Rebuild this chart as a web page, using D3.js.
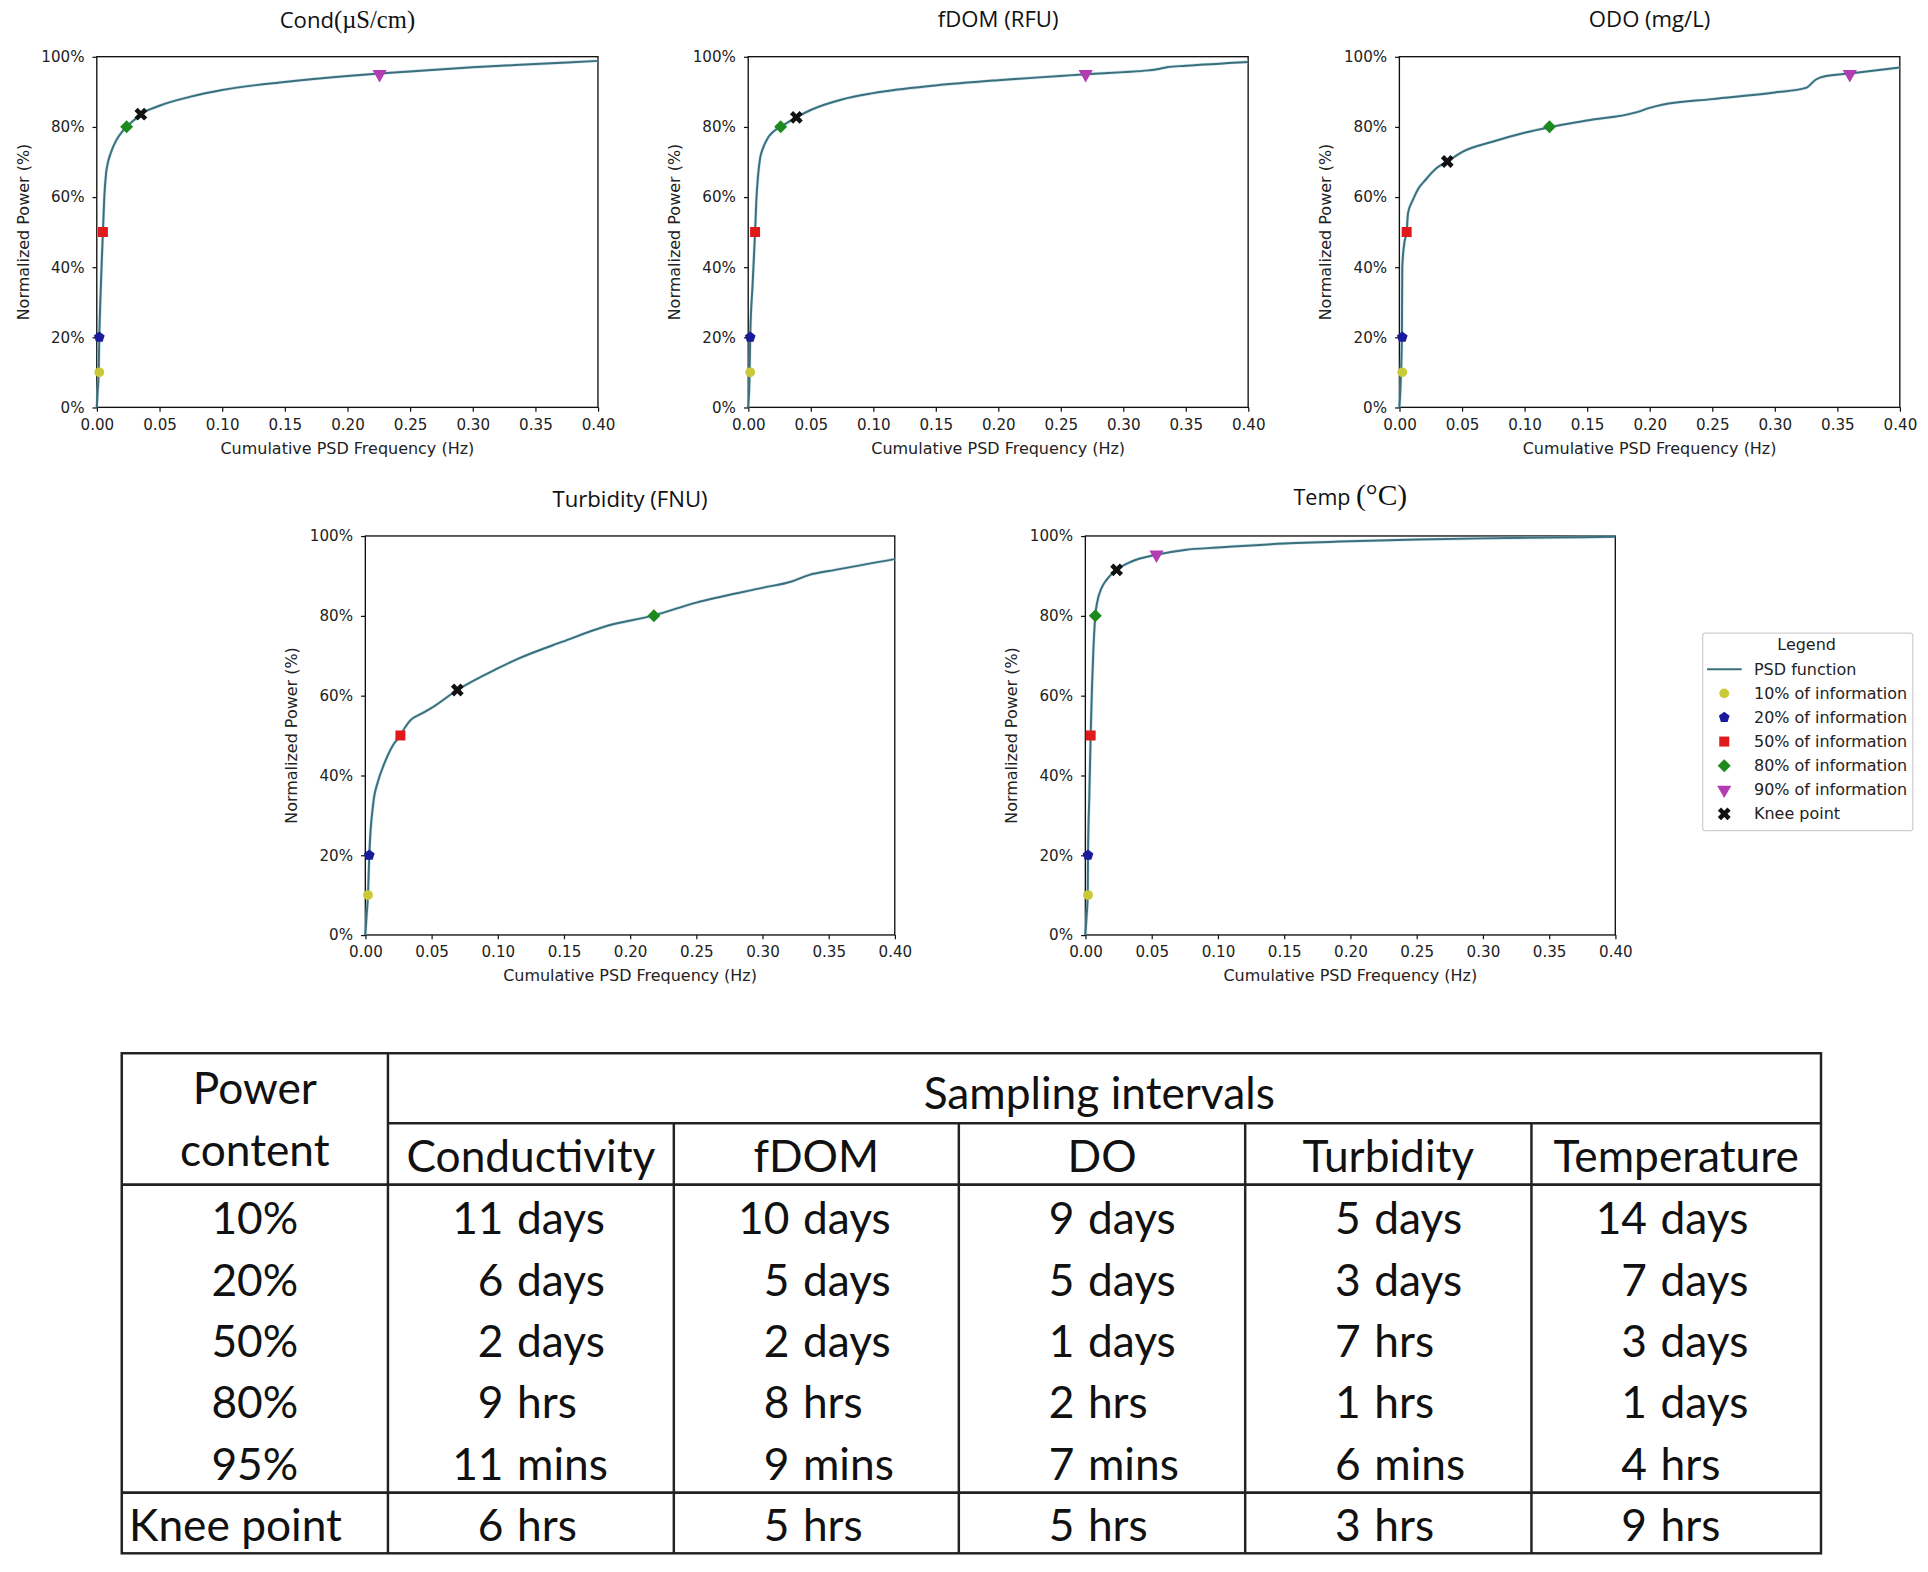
<!DOCTYPE html>
<html>
<head>
<meta charset="utf-8">
<script src="https://cdn.jsdelivr.net/npm/d3@7"></script>
<style>
  body { margin: 0; background: #fff; }
  svg { display: block; }
</style>
</head>
<body>
<div id="chart"></div>
<script>
// ---- values ----
var xTickValues = [0, 0.05, 0.10, 0.15, 0.20, 0.25, 0.30, 0.35, 0.40];
var yTickValues = [0, 20, 40, 60, 80, 100];

// cumulative PSD curves (frequency in Hz, normalized power in %)
var condFreq  = [0, 0.0008, 0.0015, 0.002, 0.003, 0.004, 0.0049, 0.006, 0.0075, 0.009, 0.011, 0.0156, 0.02, 0.0238, 0.03, 0.0352, 0.05, 0.075, 0.1, 0.15, 0.2, 0.2257, 0.25, 0.3, 0.35, 0.4];
var condPower = [0, 5, 10, 20, 32, 42, 50, 60, 67, 70, 72.4, 76.2, 78.5, 80, 82, 83.6, 86, 88.6, 90.5, 92.8, 94.5, 95.2, 95.8, 97, 97.9, 98.8];

var fdomFreq  = [0, 0.001, 0.0016, 0.0035, 0.0055, 0.0065, 0.008, 0.0095, 0.0114, 0.016, 0.02, 0.026, 0.0385, 0.05, 0.075, 0.1, 0.15, 0.2, 0.25, 0.27, 0.3, 0.32, 0.327, 0.335, 0.35, 0.4];
var fdomPower = [0, 8, 20, 35, 50, 59, 66.5, 71, 73.5, 77, 78.6, 80, 82.7, 84.8, 87.8, 89.6, 91.8, 93.3, 94.5, 95, 95.6, 96.1, 96.4, 97, 97.4, 98.5];

var odoFreq  = [0, 0.0008, 0.0013, 0.002, 0.0023, 0.004, 0.0058, 0.0069, 0.0107, 0.015, 0.02, 0.03, 0.0383, 0.05, 0.075, 0.1, 0.12, 0.15, 0.19, 0.2, 0.21, 0.25, 0.3, 0.325, 0.333, 0.34, 0.36, 0.4];
var odoPower = [0, 5, 10, 20, 40, 47, 50, 55.4, 59.1, 62.3, 64.5, 68.3, 70.1, 72.8, 75.8, 78.3, 79.9, 81.8, 84.2, 85.4, 86.3, 87.9, 89.8, 91.1, 93.5, 94.4, 95.2, 96.9];

var turbFreq  = [0, 0.001, 0.002, 0.003, 0.006, 0.0095, 0.0144, 0.021, 0.0265, 0.03, 0.034, 0.042, 0.05, 0.0695, 0.1, 0.116, 0.149, 0.181, 0.218, 0.25, 0.3, 0.322, 0.335, 0.355, 0.4];
var turbPower = [0, 5, 10, 20, 33, 38.4, 43, 47.6, 50, 52, 53.8, 55.4, 56.9, 61.4, 66.8, 69.3, 73.5, 77.3, 80.1, 83.3, 87, 88.6, 90.2, 91.5, 94.2];

var tempFreq  = [0, 0.001, 0.0018, 0.002, 0.003, 0.004, 0.005, 0.006, 0.0075, 0.009, 0.012, 0.016, 0.0236, 0.035, 0.0537, 0.075, 0.1, 0.15, 0.2, 0.25, 0.3, 0.35, 0.4];
var tempPower = [0, 5, 10, 20, 35, 50, 62, 71, 80, 83.5, 86.8, 89, 91.5, 93.6, 95.3, 96.5, 97.1, 98.1, 98.7, 99.1, 99.4, 99.6, 99.8];

// markers: 10%, 20%, 50%, 80%, 95% of information, knee point
var condMarkFreq  = [0.002, 0.002, 0.0049, 0.0238, 0.2257, 0.0352];
var condMarkPower = [10, 20, 50, 80, 95, 83.6];
var fdomMarkFreq  = [0.0016, 0.0016, 0.0055, 0.026, 0.27, 0.0385];
var fdomMarkPower = [10, 20, 50, 80, 95, 82.7];
var odoMarkFreq   = [0.0023, 0.0023, 0.0058, 0.12, 0.36, 0.0383];
var odoMarkPower  = [10, 20, 50, 80, 95, 70.1];
var turbMarkFreq  = [0.002, 0.003, 0.0265, 0.218, null, 0.0695];
var turbMarkPower = [10, 20, 50, 80, null, 61.4];
var tempMarkFreq  = [0.002, 0.002, 0.004, 0.0075, 0.0537, 0.0236];
var tempMarkPower = [10, 20, 50, 80, 95.3, 91.5];

var legendLabels = ["10% of information", "20% of information", "50% of information",
                    "80% of information", "90% of information", "Knee point"];

// table
var powerLevels = ["10%", "20%", "50%", "80%", "95%"];
var paramNames = ["Conductivity", "fDOM", "DO", "Turbidity", "Temperature"];
var condIntervals = ["11 days", "6 days", "2 days", "9 hrs", "11 mins"];
var fdomIntervals = ["10 days", "5 days", "2 days", "8 hrs", "9 mins"];
var doIntervals   = ["9 days", "5 days", "1 days", "2 hrs", "7 mins"];
var turbIntervals = ["5 days", "3 days", "7 hrs", "1 hrs", "6 mins"];
var tempIntervals = ["14 days", "7 days", "3 days", "1 days", "4 hrs"];
var kneeIntervals = ["6 hrs", "5 hrs", "5 hrs", "3 hrs", "9 hrs"];

// ---- drawing ----
var W = 1568, H = 1278.5;
var svg = d3.select("#chart").append("svg")
    .attr("width", 1928)
    .attr("height", 1572)
    .attr("viewBox", "0 0 " + W + " " + H);
svg.append("rect").attr("width", W).attr("height", H).attr("fill", "#fff");

var SANS = "'DejaVu Sans', sans-serif";
var TITLE = "'Open Sans', 'DejaVu Sans', sans-serif";
var SERIF = "'Liberation Serif', 'DejaVu Serif', serif";
var TABLE = "Lato, 'Open Sans', sans-serif";
var lineColor = "#3b6f7e";

// matplotlib-like pentagon, d3 has none
var pentagon = {
    draw: function (ctx, size) {
        var r = Math.sqrt(size / 2.378);
        for (var i = 0; i < 5; i++) {
            var a = -Math.PI / 2 + i * 2 * Math.PI / 5;
            if (i === 0) ctx.moveTo(r * Math.cos(a), r * Math.sin(a));
            else ctx.lineTo(r * Math.cos(a), r * Math.sin(a));
        }
        ctx.closePath();
    }
};

var markerStyles = [
    { type: d3.symbolCircle,   size: 50, fill: "#c9c93a", rot: 0 },
    { type: pentagon,          size: 50, fill: "#1a1a9c", rot: 0 },
    { type: d3.symbolSquare,   size: 66, fill: "#e01a1a", rot: 0 },
    { type: d3.symbolSquare,   size: 56, fill: "#1d8a1d", rot: 45 },
    { type: d3.symbolTriangle, size: 58, fill: "#b23cb2", rot: 180 },
    { type: d3.symbolCross,    size: 68, fill: "#111",    rot: 45 }
];

function symbolPath(i) {
    return d3.symbol().type(markerStyles[i].type).size(markerStyles[i].size)();
}

var panels = [
    { x: 78.7,  y: 46.1,  w: 407.6, h: 285.2, freq: condFreq, power: condPower, mf: condMarkFreq, mp: condMarkPower,
      title: [["Cond", TITLE, 18], ["(\u00b5S/cm)", SERIF, 20]], titleY: 23 },
    { x: 608.5, y: 46.1,  w: 406.6, h: 285.2, freq: fdomFreq, power: fdomPower, mf: fdomMarkFreq, mp: fdomMarkPower,
      title: [["fDOM (RFU)", TITLE, 18]], titleY: 22 },
    { x: 1138.1, y: 46.1, w: 407,   h: 285.2, freq: odoFreq, power: odoPower, mf: odoMarkFreq, mp: odoMarkPower,
      title: [["ODO (mg/L)", TITLE, 18]], titleY: 22 },
    { x: 297.1, y: 435.9, w: 430.6, h: 324.5, freq: turbFreq, power: turbPower, mf: turbMarkFreq, mp: turbMarkPower,
      title: [["Turbidity (FNU)", TITLE, 18]], titleY: 412 - 435.9 },
    { x: 882.7, y: 435.9, w: 431,   h: 324.5, freq: tempFreq, power: tempPower, mf: tempMarkFreq, mp: tempMarkPower,
      title: [["Temp ", TITLE, 17.5], ["(\u00b0C)", SERIF, 24]], titleY: 411 - 435.9 }
];
// top-row titles are given relative to the plot top
panels[0].titleY -= 46.1; panels[1].titleY -= 46.1; panels[2].titleY -= 46.1;

panels.forEach(function (p) {
    var g = svg.append("g").attr("transform", "translate(" + p.x + "," + p.y + ")");
    var x = d3.scaleLinear().domain([0, 0.4]).range([0, p.w]);
    var y = d3.scaleLinear().domain([0, 100]).range([p.h, 0]);

    var xa = g.append("g")
        .attr("transform", "translate(0," + p.h + ")")
        .call(d3.axisBottom(x).tickValues(xTickValues).tickFormat(d3.format(".2f"))
            .tickSize(3.5).tickPadding(6));
    var ya = g.append("g")
        .call(d3.axisLeft(y).tickValues(yTickValues).tickFormat(function (d) { return d + "%"; })
            .tickSize(3.5).tickPadding(6.5));
    [xa, ya].forEach(function (a) {
        a.select(".domain").remove();
        a.selectAll(".tick line").attr("stroke", "#111");
        a.selectAll(".tick text").attr("font-family", SANS).attr("font-size", 12.3).attr("fill", "#222");
    });

    g.append("rect").attr("width", p.w).attr("height", p.h)
        .attr("fill", "none").attr("stroke", "#111").attr("stroke-width", 1.1);

    var line = d3.line()
        .curve(d3.curveMonotoneX)
        .x(function (d, i) { return x(p.freq[i]); })
        .y(function (d, i) { return y(p.power[i]); });
    g.append("path").datum(p.freq).attr("d", line)
        .attr("fill", "none").attr("stroke", "#9fd0dc").attr("stroke-width", 2.6).attr("opacity", 0.5);
    g.append("path").datum(p.freq).attr("d", line)
        .attr("fill", "none").attr("stroke", lineColor).attr("stroke-width", 1.6);

    p.mf.forEach(function (f, i) {
        if (f === null) return;
        g.append("path")
            .attr("d", symbolPath(i))
            .attr("fill", markerStyles[i].fill)
            .attr("transform", "translate(" + x(f) + "," + y(p.mp[i]) + ") rotate(" + markerStyles[i].rot + ")");
    });

    g.append("text")
        .attr("x", p.w / 2).attr("y", p.h + 33.2)
        .attr("text-anchor", "middle").attr("dominant-baseline", "central")
        .attr("font-family", SANS).attr("font-size", 13).attr("fill", "#222")
        .text("Cumulative PSD Frequency (Hz)");
    g.append("text")
        .attr("transform", "translate(-60," + (p.h / 2) + ") rotate(-90)")
        .attr("text-anchor", "middle").attr("dominant-baseline", "central")
        .attr("font-family", SANS).attr("font-size", 13).attr("fill", "#222")
        .text("Normalized Power (%)");

    var t = g.append("text").attr("x", p.w / 2).attr("y", p.titleY)
        .attr("text-anchor", "middle").attr("fill", "#111");
    p.title.forEach(function (part) {
        t.append("tspan").attr("font-family", part[1]).attr("font-size", part[2]).text(part[0]);
    });
});

// ---- legend ----
var lg = svg.append("g").attr("transform", "translate(1384.8,515)");
lg.append("rect").attr("width", 170.8).attr("height", 160.6).attr("rx", 2)
    .attr("fill", "#fff").attr("stroke", "#cfcfcf").attr("stroke-width", 1);
lg.append("text").attr("x", 84.5).attr("y", 9)
    .attr("text-anchor", "middle").attr("dominant-baseline", "central")
    .attr("font-family", SANS).attr("font-size", 13)
    .attr("fill", "#222").text("Legend");
var rowY = function (i) { return 29.3 + i * 19.6; };
lg.append("line").attr("x1", 3.5).attr("x2", 31.7).attr("y1", rowY(0)).attr("y2", rowY(0))
    .attr("stroke", lineColor).attr("stroke-width", 1.8);
lg.append("text").attr("x", 41.7).attr("y", rowY(0)).attr("dominant-baseline", "central")
    .attr("font-family", SANS).attr("font-size", 13).attr("fill", "#222").text("PSD function");
legendLabels.forEach(function (lab, i) {
    lg.append("path").attr("d", symbolPath(i)).attr("fill", markerStyles[i].fill)
        .attr("transform", "translate(17.5," + rowY(i + 1) + ") rotate(" + markerStyles[i].rot + ")");
    lg.append("text").attr("x", 41.7).attr("y", rowY(i + 1)).attr("dominant-baseline", "central")
        .attr("font-family", SANS).attr("font-size", 13).attr("fill", "#222").text(lab);
});

// ---- table ----
var colX = [99, 315.5, 548, 779.8, 1012.7, 1245.5, 1481];
var tTop = 856.6, tSub = 913.6, tHead = 963.5, tKnee = 1214, tBot = 1263.3;
var rowBase = [1004, 1054, 1103.5, 1153.5, 1204];
var kneeBase = 1253.5;
var tb = svg.append("g");
var hline = function (x1, x2, yy, w) {
    tb.append("line").attr("x1", x1).attr("x2", x2).attr("y1", yy).attr("y2", yy)
        .attr("stroke", "#222").attr("stroke-width", w);
};
var vline = function (xx, y1, y2, w) {
    tb.append("line").attr("x1", xx).attr("x2", xx).attr("y1", y1).attr("y2", y2)
        .attr("stroke", "#222").attr("stroke-width", w);
};
tb.append("rect").attr("x", colX[0]).attr("y", tTop)
    .attr("width", colX[6] - colX[0]).attr("height", tBot - tTop)
    .attr("fill", "none").attr("stroke", "#222").attr("stroke-width", 2);
hline(colX[1], colX[6], tSub, 2);
hline(colX[0], colX[6], tHead, 2.2);
hline(colX[0], colX[6], tKnee, 2.2);
vline(colX[1], tTop, tBot, 2);
for (var c = 2; c < 6; c++) vline(colX[c], tSub, tBot, 2);

var tText = function (x, y, s, anchor) {
    tb.append("text").attr("x", x).attr("y", y).attr("text-anchor", anchor || "middle")
        .attr("font-family", TABLE).attr("font-size", 36).attr("fill", "#111").text(s);
};
tText((colX[0] + colX[1]) / 2, 898, "Power");
tText((colX[0] + colX[1]) / 2, 948, "content");
tText(894, 902, "Sampling intervals");
paramNames.forEach(function (n, i) { tText((colX[i + 1] + colX[i + 2]) / 2, 953, n); });
powerLevels.forEach(function (lv, r) { tText((colX[0] + colX[1]) / 2, rowBase[r], lv); });
tText(105, kneeBase, "Knee point", "start");

var columns = [condIntervals, fdomIntervals, doIntervals, turbIntervals, tempIntervals];
function cell(ci, yy, val) {
    var parts = val.split(" ");
    var numEnd = colX[ci + 1] + 94;
    tText(numEnd, yy, parts[0], "end");
    tText(numEnd + 11, yy, parts[1], "start");
}
columns.forEach(function (col, ci) {
    col.forEach(function (v, r) { cell(ci, rowBase[r], v); });
});
kneeIntervals.forEach(function (v, ci) { cell(ci, kneeBase, v); });
</script>
</body>
</html>
